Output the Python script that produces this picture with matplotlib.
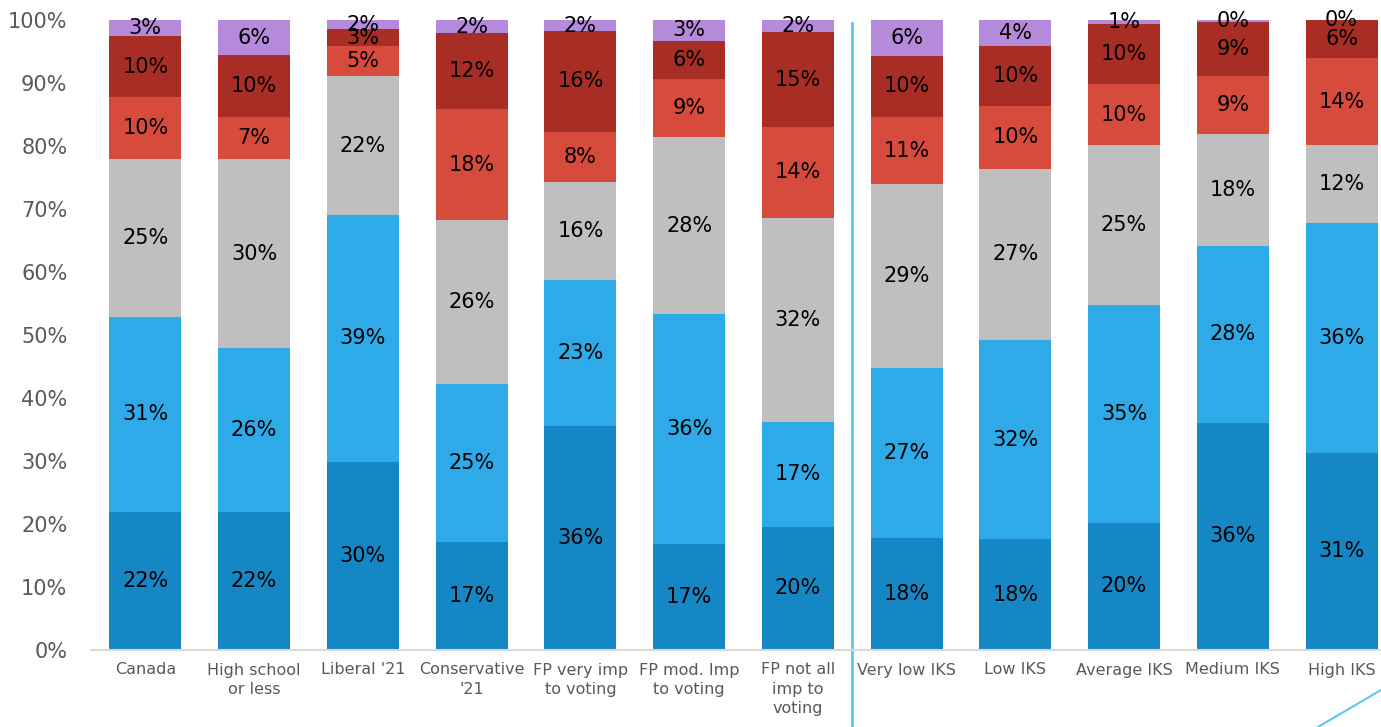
import matplotlib.pyplot as plt
from matplotlib.lines import Line2D
import numpy as np

categories = ["Canada", "High school\nor less", "Liberal '21", "Conservative\n'21",
              "FP very imp\nto voting", "FP mod. Imp\nto voting", "FP not all\nimp to\nvoting",
              "Very low IKS", "Low IKS", "Average IKS", "Medium IKS", "High IKS"]

# shares (%) bottom -> top
seg1 = [21.9, 21.9, 29.9, 17.2, 35.6, 16.9, 19.6, 17.8, 17.6, 20.2, 36.1, 31.3]
seg2 = [31.0, 26.0, 39.1, 25.1, 23.1, 36.4, 16.6, 27.0, 31.6, 34.6, 28.0, 36.4]
seg3 = [25.1, 30.0, 22.1, 25.9, 15.6, 28.1, 32.4, 29.1, 27.2, 25.3, 17.8, 12.4]
seg4 = [9.8, 6.7, 4.8, 17.7, 8.0, 9.2, 14.4, 10.7, 9.9, 9.7, 9.2, 13.9]
seg5 = [9.6, 9.8, 2.6, 12.0, 15.9, 6.1, 15.1, 9.7, 9.6, 9.6, 8.6, 6.0]
seg6 = [2.6, 5.6, 1.5, 2.1, 1.8, 3.3, 1.9, 5.7, 4.1, 0.6, 0.3, 0.0]

colors = ["#1587c5", "#2eaae9", "#bfbfbf", "#d74b3c", "#a82d24", "#b68ada"]

fig = plt.figure(figsize=(13.81, 7.27), dpi=100)
ax = fig.add_axes([91 / 1381, 77 / 727, 1305 / 1381, 630 / 727])

x = np.arange(len(categories))
bottom = np.zeros(len(categories))
for vals, col in zip([seg1, seg2, seg3, seg4, seg5, seg6], colors):
    vals = np.array(vals)
    ax.bar(x, vals, 0.66, bottom=bottom, color=col, linewidth=0)
    for xi, b, v in zip(x, bottom, vals):
        ax.text(xi, b + v / 2, f"{round(v)}%", ha="center", va="center",
                fontsize=15, color="black")
    bottom += vals

ax.set_xlim(-0.5, len(categories) - 0.5)
ax.set_ylim(0, 100)
ax.set_yticks(np.arange(0, 101, 10))
ax.set_yticklabels([f"{t}%" for t in range(0, 101, 10)])
ax.set_xticks(x)
ax.set_xticklabels(categories, linespacing=1.35)
ax.tick_params(axis="y", length=0, pad=17, labelsize=15, labelcolor="#595959")
ax.tick_params(axis="x", length=0, pad=9, labelsize=11.5, labelcolor="#595959")

for s in ["top", "right", "left"]:
    ax.spines[s].set_visible(False)
ax.spines["bottom"].set_color("#d9d9d9")
ax.spines["bottom"].set_linewidth(1.5)

# separator between groups
ax.add_line(Line2D([6.5, 6.5], [99.5, -13], color="#5cc8f2", linewidth=2, clip_on=False))
# decorative corner stroke
fig.add_artist(Line2D([1318 / 1381, 1.0], [0, 37 / 727], color="#5cc8f2", linewidth=1.5))

plt.savefig("out.png", dpi=100)
